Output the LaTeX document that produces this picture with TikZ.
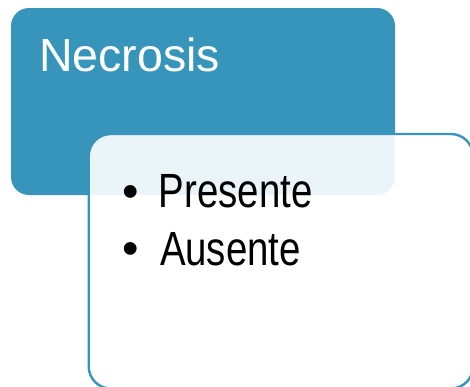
\documentclass[tikz,border=0pt]{standalone}
\usepackage{fontspec}
\setmainfont{Liberation Sans}
\newfontfamily\narrowfont[FakeStretch=0.8]{Liberation Sans}
\definecolor{accblue}{HTML}{3794BA}
\begin{document}
\begin{tikzpicture}[x=1pt,y=-1pt,
  txt/.style={inner sep=0pt, outer sep=0pt},
  headtxt/.style={txt, text=white, font=\fontsize{46.5}{56}\selectfont},
  itemtxt/.style={txt, font=\narrowfont\fontsize{48}{58}\selectfont},
  bullettxt/.style={txt, font=\fontsize{47}{56}\selectfont},
  headbox/.style={fill=accblue, draw=none, rounded corners=18pt},
  listbox/.style={fill=white, fill opacity=0.9, draw=accblue, line width=2.4pt, rounded corners=22pt}]
\useasboundingbox (0,0) rectangle (470,386);
\path[headbox] (11,8) rectangle (395,195);
\path[listbox] (88.7,134) rectangle (473,388.5);
\node[headtxt, anchor=base west] (head) at (39.2,71) {Necrosis};
\node[bullettxt, anchor=base west] (b1) at (122.3,207) {•};
\node[itemtxt, anchor=base west] (i1) at (158.7,207.5) {Presente};
\node[bullettxt, anchor=base west] (b2) at (122.3,264.5) {•};
\node[itemtxt, anchor=base west] (i2) at (160,265) {Ausente};
\end{tikzpicture}
\end{document}
